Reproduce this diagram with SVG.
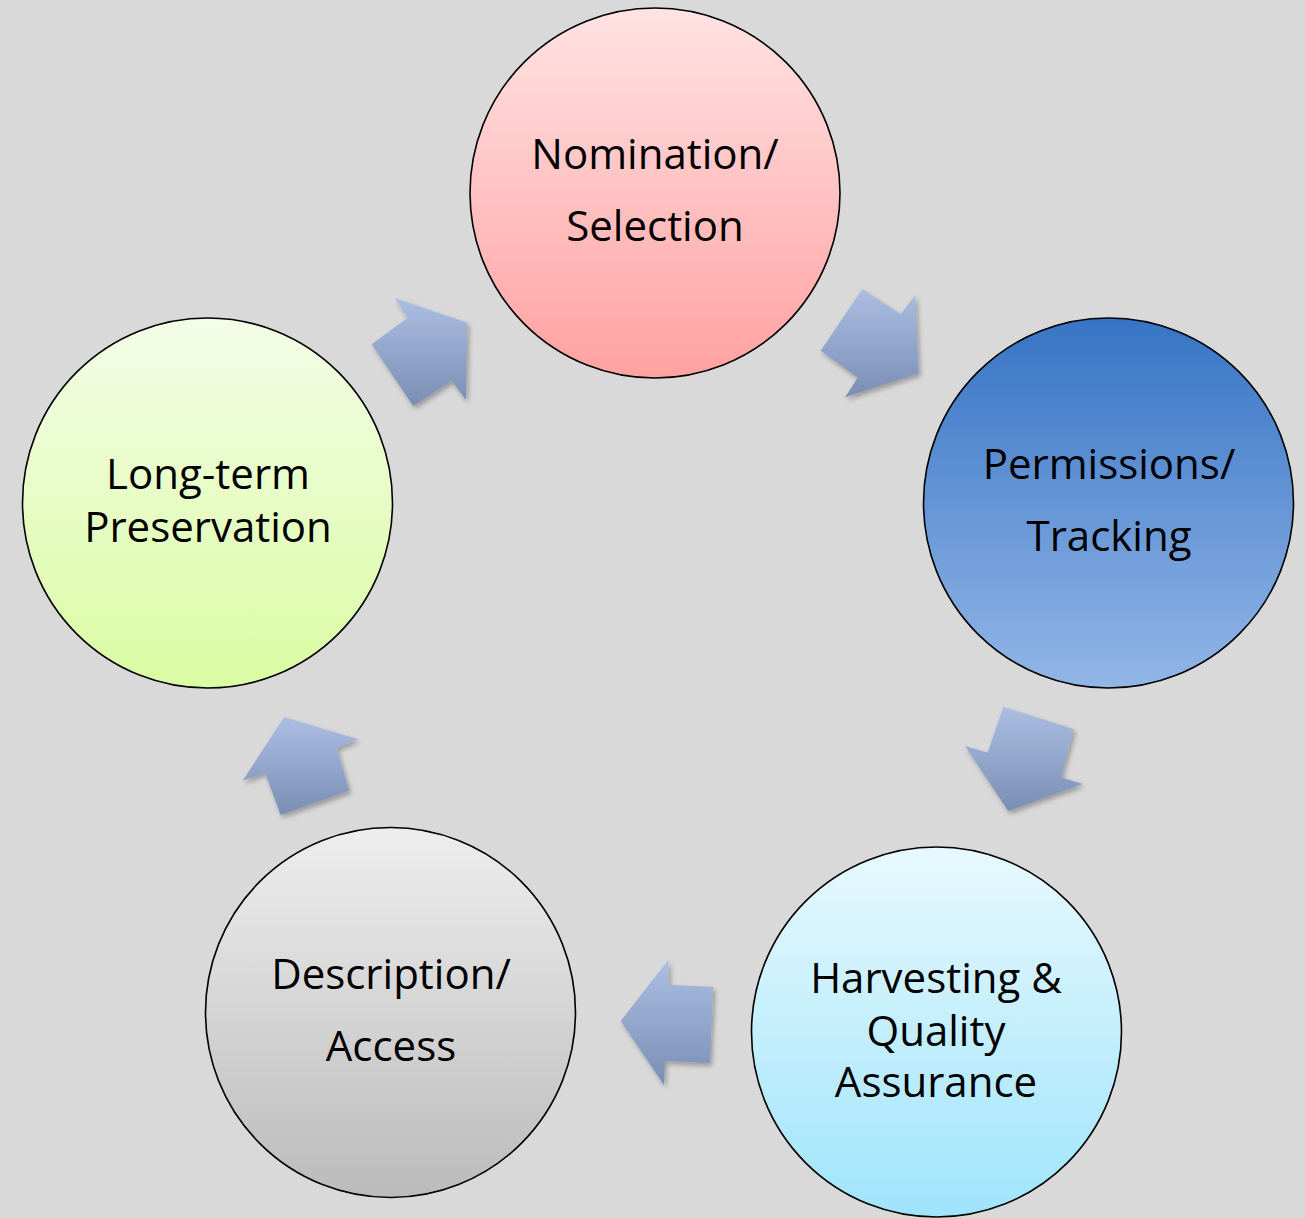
<svg xmlns="http://www.w3.org/2000/svg" width="1305" height="1218" viewBox="0 0 1305 1218">
<style>
  .node circle { stroke: #000; stroke-width: 1.6; }
  .node text { font-family: "Open Sans", "Noto Sans", "Liberation Sans", sans-serif; font-size: 42px; fill: #000; text-anchor: middle; }
  .arrow { fill: url(#gArrow); filter: url(#shadow); }
</style>
<defs>
  <linearGradient id="gArrow" x1="0" y1="0" x2="0" y2="1">
    <stop offset="0" stop-color="#abbee2"/>
    <stop offset="1" stop-color="#7a8db3"/>
  </linearGradient>
  <linearGradient id="gRed" x1="0" y1="0" x2="0" y2="1">
    <stop offset="0" stop-color="#ffe3e3"/>
    <stop offset="1" stop-color="#ffa1a1"/>
  </linearGradient>
  <linearGradient id="gBlue" x1="0" y1="0" x2="0" y2="1">
    <stop offset="0" stop-color="#3774c5"/>
    <stop offset="1" stop-color="#92b6e6"/>
  </linearGradient>
  <linearGradient id="gCyan" x1="0" y1="0" x2="0" y2="1">
    <stop offset="0" stop-color="#e8f9fe"/>
    <stop offset="1" stop-color="#9fe4fb"/>
  </linearGradient>
  <linearGradient id="gGray" x1="0" y1="0" x2="0" y2="1">
    <stop offset="0" stop-color="#eeeeee"/>
    <stop offset="1" stop-color="#bbbbbb"/>
  </linearGradient>
  <linearGradient id="gGreen" x1="0" y1="0" x2="0" y2="1">
    <stop offset="0" stop-color="#f4fde8"/>
    <stop offset="1" stop-color="#dafca2"/>
  </linearGradient>
  <filter id="shadow" x="-20%" y="-20%" width="140%" height="140%">
    <feDropShadow dx="2" dy="3" stdDeviation="2.5" flood-color="#000" flood-opacity="0.3"/>
  </filter>
</defs>
<rect x="0" y="0" width="1305" height="1218" fill="#d9d9d9"/>

<g id="connectors">
  <polygon class="arrow" points="395,298.3 407.7,317.7 371.7,344.3 413.3,406 451.7,381 466,400 467.3,322.7"/>
  <polygon class="arrow" points="862.3,289 900.7,314.3 915.3,295 918.7,373.3 845,397.3 857.7,377.7 820.7,350.7"/>
  <polygon class="arrow" points="1003.3,706.7 1074,729.3 1061,777.3 1082.7,784 1008.3,811 965,746 987.7,752.7"/>
  <polygon class="arrow" points="668.3,960 669,985 713.3,986.7 710,1063.3 665,1061 664,1085 620.7,1021"/>
  <polygon class="arrow" points="284,717.3 358.3,739.3 336.7,747.7 349.3,790.7 280.7,815 265,772.7 242.7,780.7"/>
</g>

<g id="node-nomination" class="node">
  <circle cx="655" cy="193" r="185" fill="url(#gRed)"/>
  <text x="655" y="169">Nomination/</text>
  <text x="655" y="241">Selection</text>
</g>
<g id="node-permissions" class="node">
  <circle cx="1108.5" cy="503" r="185" fill="url(#gBlue)"/>
  <text x="1109" y="479">Permissions/</text>
  <text x="1109" y="551">Tracking</text>
</g>
<g id="node-harvesting" class="node">
  <circle cx="936.5" cy="1032" r="185" fill="url(#gCyan)"/>
  <text x="936" y="993">Harvesting &amp;</text>
  <text x="936" y="1046">Quality</text>
  <text x="936" y="1097">Assurance</text>
</g>
<g id="node-description" class="node">
  <circle cx="390.5" cy="1012.5" r="185" fill="url(#gGray)"/>
  <text x="391" y="989">Description/</text>
  <text x="391" y="1061">Access</text>
</g>
<g id="node-longterm" class="node">
  <circle cx="207.5" cy="503" r="185" fill="url(#gGreen)"/>
  <text x="208" y="489">Long-term</text>
  <text x="208" y="542">Preservation</text>
</g>
</svg>
